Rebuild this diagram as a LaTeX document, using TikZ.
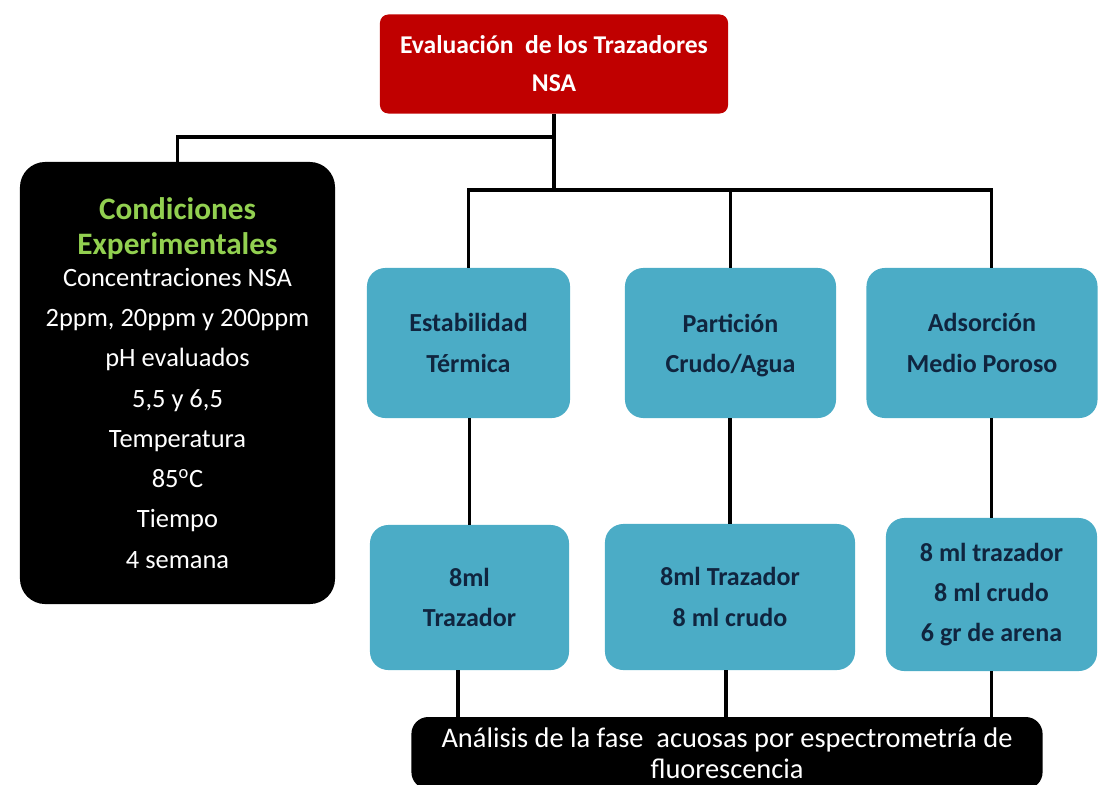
\documentclass[tikz,border=0pt]{standalone}
\usepackage{fontspec}
\setmainfont{Carlito}
\usetikzlibrary{positioning, calc}
\definecolor{evalred}{RGB}{192,0,0}
\definecolor{testblue}{RGB}{75,172,198}
\definecolor{condgreen}{RGB}{146,208,80}
\definecolor{navytext}{RGB}{16,37,63}

\begin{document}
\begin{tikzpicture}[x=0.025cm, y=-0.025cm,
    link/.style={draw=black, line width=2.8pt},
    headbox/.style={fill=evalred, rounded corners=6pt, inner sep=0pt, align=center,
      text=white, font=\fontsize{18.2}{27}\selectfont\bfseries},
    darkbox/.style={fill=black, inner sep=0pt, align=center, text=white},
    testbox/.style={fill=testblue, rounded corners=13pt, inner sep=0pt, align=center,
      text=navytext, font=\fontsize{18.5}{28.6}\selectfont\bfseries}]
    \useasboundingbox (0,0) rectangle (1110,784);
    % top node
    \node[headbox, minimum width=8.7cm, minimum height=2.475cm] (eval) at (554,64)
      {Evaluación~~de los Trazadores\\NSA};
    % experimental conditions
    \node[darkbox, rounded corners=18pt, minimum width=7.875cm, minimum height=11.05cm,
      font=\fontsize{18.8}{28.6}\selectfont] (cond) at (177.5,383)
      {\textcolor{condgreen}{\fontsize{22.2}{24.8}\selectfont\bfseries Condiciones}\\[-3.8pt]
       \textcolor{condgreen}{\fontsize{22.2}{24.8}\selectfont\bfseries Experimentales}\\[-5.9pt]
       Concentraciones NSA\\
       2ppm, 20ppm y 200ppm\\
       pH evaluados\\
       5,5 y 6,5\\
       Temperatura\\
       85\textsuperscript{o}C\\
       Tiempo\\
       4 semana};
    % tests
    \node[testbox, minimum width=5.075cm, minimum height=3.75cm] (stab) at (468.5,343)
      {Estabilidad\\Térmica};
    \node[testbox, minimum width=5.275cm, minimum height=3.75cm] (part) at (730.5,343)
      {Partición\\\smash{Crudo/Agua}};
    \node[testbox, minimum width=5.775cm, minimum height=3.75cm] (adso) at (982,343)
      {Adsorción\\Medio Poroso};
    % samples
    \node[testbox, minimum width=4.975cm, minimum height=3.625cm] (stabmix) at (469.5,597.5)
      {8ml\\Trazador};
    \node[testbox, minimum width=6.25cm, minimum height=3.65cm] (partmix) at (730,597)
      {8ml Trazador\\8 ml crudo};
    \node[testbox, minimum width=5.275cm, minimum height=3.825cm] (adsomix) at (991.5,594.5)
      {8 ml trazador\\8 ml crudo\\6 gr de arena};
    % analysis
    \node[darkbox, rounded corners=12pt, minimum width=15.775cm, minimum height=1.8cm,
      font=\fontsize{20.2}{22}\selectfont] (fluo) at (727,753)
      {Análisis de la fase~~acuosas por espectrometría de\\fluorescencia};
    % connectors
    \coordinate (hubA) at (eval.south |- 0,137);
    \coordinate (hubB) at (eval.south |- 0,190);
    \draw[link] (eval.south) -- (hubB);
    \draw[link] (hubA) -| (cond.north);
    \draw[link] (stab.north) |- (hubB) -| (adsomix.north |- adso.north);
    \draw[link] (part.north) -- (part.north |- hubB);
    \draw[link] (stabmix.north) -- (stabmix.north |- stab.south);
    \draw[link] (partmix.north) -- (partmix.north |- part.south);
    \draw[link] (adsomix.north) -- (adsomix.north |- adso.south);
    \draw[link] ([xshift=-0.29cm]stabmix.south) -- ([xshift=-0.29cm]stabmix.south |- fluo.north);
    \draw[link] ([xshift=-0.1cm]partmix.south) -- ([xshift=-0.1cm]partmix.south |- fluo.north);
    \draw[link] (adsomix.south) -- (adsomix.south |- fluo.north);
\end{tikzpicture}
\end{document}
